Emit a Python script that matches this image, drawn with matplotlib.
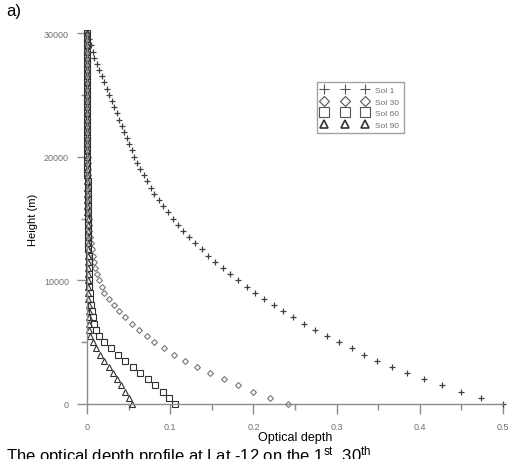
import matplotlib
matplotlib.use("Agg")
import matplotlib.pyplot as plt
from matplotlib.lines import Line2D

# heights (m) and optical depth for each sol
heights = [0, 500, 1000, 1500, 2000, 2500, 3000, 3500, 4000, 4500,
           5000, 5500, 6000, 6500, 7000, 7500, 8000, 8500, 9000, 9500,
           10000, 10500, 11000, 11500, 12000, 12500, 13000, 13500, 14000, 14500,
           15000, 15500, 16000, 16500, 17000, 17500, 18000, 18500, 19000, 19500,
           20000, 20500, 21000, 21500, 22000, 22500, 23000, 23500, 24000, 24500,
           25000, 25500, 26000, 26500, 27000, 27500, 28000, 28500, 29000, 29500,
           30000]

sol1 = [0.500, 0.474, 0.450, 0.427, 0.405, 0.385, 0.366, 0.349, 0.333, 0.318,
        0.303, 0.288, 0.274, 0.261, 0.248, 0.236, 0.225, 0.213, 0.202, 0.192,
        0.182, 0.172, 0.163, 0.154, 0.146, 0.138, 0.130, 0.122, 0.115, 0.109,
        0.103, 0.097, 0.091, 0.086, 0.081, 0.077, 0.072, 0.068, 0.064, 0.060,
        0.057, 0.054, 0.051, 0.048, 0.045, 0.042, 0.039, 0.036, 0.033, 0.030,
        0.027, 0.024, 0.021, 0.018, 0.015, 0.012, 0.009, 0.007, 0.005, 0.002,
        0.000]

sol30 = [0.242, 0.220, 0.200, 0.182, 0.165, 0.148, 0.132, 0.118, 0.104, 0.092,
         0.081, 0.072, 0.063, 0.054, 0.046, 0.039, 0.032, 0.026, 0.021, 0.018,
         0.015, 0.012, 0.010, 0.008, 0.007, 0.006, 0.005, 0.004, 0.003, 0.002,
         0.002, 0.001, 0.001, 0.001, 0.001, 0.001, 0.001, 0.001, 0.001, 0.001,
         0.001, 0.000, 0.000, 0.000, 0.000, 0.000, 0.000, 0.000, 0.000, 0.000,
         0.000, 0.000, 0.000, 0.000, 0.000, 0.000, 0.000, 0.000, 0.000, 0.000,
         0.000]

sol60 = [0.106, 0.099, 0.091, 0.082, 0.073, 0.064, 0.055, 0.046, 0.037, 0.029,
         0.021, 0.015, 0.011, 0.009, 0.007, 0.006, 0.005, 0.004, 0.004, 0.003,
         0.003, 0.003, 0.002, 0.002, 0.002, 0.001, 0.001, 0.001, 0.001, 0.001,
         0.001, 0.001, 0.001, 0.001, 0.001, 0.001, 0.001, 0.000, 0.000, 0.000,
         0.000, 0.000, 0.000, 0.000, 0.000, 0.000, 0.000, 0.000, 0.000, 0.000,
         0.000, 0.000, 0.000, 0.000, 0.000, 0.000, 0.000, 0.000, 0.000, 0.000,
         0.000]

sol90 = [0.054, 0.050, 0.046, 0.041, 0.036, 0.031, 0.026, 0.021, 0.016, 0.011,
         0.007, 0.004, 0.003, 0.002, 0.002, 0.002, 0.002, 0.001, 0.001, 0.001,
         0.001, 0.001, 0.001, 0.001, 0.001, 0.001, 0.001, 0.001, 0.001, 0.001,
         0.001, 0.000, 0.000, 0.000, 0.000, 0.000, 0.000, 0.000, 0.000, 0.000,
         0.000, 0.000, 0.000, 0.000, 0.000, 0.000, 0.000, 0.000, 0.000, 0.000,
         0.000, 0.000, 0.000, 0.000, 0.000, 0.000, 0.000, 0.000, 0.000, 0.000,
         0.000]

labels = ["Sol 1", "Sol 30", "Sol 60", "Sol 90"]

axis_grey = "#8c8c8c"
text_grey = "#707070"

plt.rcParams["font.family"] = ["Liberation Sans", "DejaVu Sans"]
plt.rcParams["mathtext.default"] = "regular"

fig = plt.figure(figsize=(5.1, 4.6), dpi=100)
ax = fig.add_axes([87 / 510, 1 - 405 / 460, 416 / 510, 371 / 460])

# marker-only series, dark ones drawn over the grey diamonds
ax.plot(sol30, heights, ls="none", marker="D", ms=3, mfc="none", mec="#777777", mew=0.8, clip_on=False)
ax.plot(sol60, heights, ls="none", marker="s", ms=4.5, mfc="none", mec="#303030", mew=0.8, clip_on=False)
ax.plot(sol90, heights, ls="none", marker="^", ms=4, mfc="none", mec="#303030", mew=0.8, clip_on=False)
ax.plot(sol1, heights, ls="none", marker="+", ms=4, mec="#404040", mew=0.9, clip_on=False)

ax.set_xlim(0, 0.5)
ax.set_ylim(0, 30000)
ax.set_xticks([0, 0.1, 0.2, 0.3, 0.4, 0.5])
ax.set_xticklabels(["0", "0.1", "0.2", "0.3", "0.4", "0.5"])
ax.set_xticks([0.05, 0.15, 0.25, 0.35, 0.45], minor=True)
ax.set_yticks([0, 10000, 20000, 30000])
ax.set_yticks([5000, 15000, 25000], minor=True)

for side in ["top", "right"]:
    ax.spines[side].set_visible(False)
for side in ["left", "bottom"]:
    ax.spines[side].set_color(axis_grey)
    ax.spines[side].set_linewidth(1.0)

ax.tick_params(which="major", direction="out", length=7, width=1.0, color=axis_grey,
               labelcolor=text_grey, labelsize=6.5, pad=6)
ax.tick_params(which="minor", direction="out", length=4, width=1.0, color=axis_grey)

ax.set_xlabel("Optical depth", fontsize=9, labelpad=0)
ax.set_ylabel("Height (m)", fontsize=8, labelpad=4)

# legend with bigger markers, three per row
handles = [
    Line2D([], [], ls="none", marker="+", ms=7, mec="#555555", mew=0.8),
    Line2D([], [], ls="none", marker="D", ms=5, mfc="none", mec="#555555", mew=0.8),
    Line2D([], [], ls="none", marker="s", ms=6.5, mfc="none", mec="#555555", mew=0.8),
    Line2D([], [], ls="none", marker="^", ms=6, mfc="none", mec="#333333", mew=1.2),
]
leg = ax.legend(handles, labels, loc="upper left", bbox_to_anchor=(0.553, 0.868),
                numpoints=3, handlelength=5.6, fontsize=6, frameon=True, fancybox=False,
                borderpad=0.5, labelspacing=0.45, handletextpad=0.9, borderaxespad=0)
leg.get_frame().set_edgecolor(axis_grey)
leg.get_frame().set_linewidth(1.0)
for t in leg.get_texts():
    t.set_color(text_grey)

fig.text(0.012, 0.992, "a)", fontsize=12, va="top", ha="left")
# caption runs off the bottom edge in the original
fig.text(0.012, -0.004, "The optical depth profile at Lat -12 on the 1$^{st}$, 30$^{th}$",
         fontsize=12, va="baseline", ha="left")

fig.savefig("out.png", dpi=100)
